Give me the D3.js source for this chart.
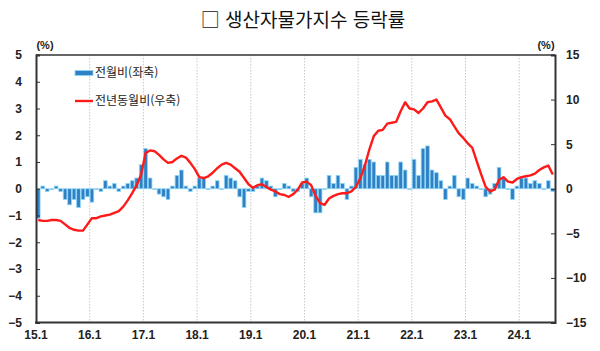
<!DOCTYPE html>
<html lang="ko">
<head>
<meta charset="UTF-8">
<title>생산자물가지수 등락률</title>
<script src="https://d3js.org/d3.v7.min.js"></script>
<style>
  body { margin: 0; background: #fff; }
  svg { display: block; }
</style>
</head>
<body>
<svg></svg>
<script>
// ---- data ----
const years = ['15', '16', '17', '18', '19', '20', '21', '22', '23', '24'];
const lastMonth = 8; // 24.8 까지

// 전월비 (%, 좌축)
const momValues = [
  -1.1, 0.1, -0.1, 0.0, 0.1, -0.1, -0.4, -0.6, -0.4, -0.7, -0.4, -0.3,   // 15
  -0.5, 0.0, -0.1, 0.3, 0.1, 0.2, -0.1, 0.1, 0.2, 0.3, 0.4, 0.9,         // 16
  1.5, 0.4, 0.0, -0.2, -0.3, -0.4, 0.1, 0.5, 0.7, 0.1, -0.1, 0.1,        // 17
  0.4, 0.4, 0.0, 0.1, 0.3, 0.0, 0.5, 0.4, 0.3, -0.3, -0.7, -0.1,         // 18
  -0.1, 0.1, 0.4, 0.3, 0.1, -0.3, 0.0, 0.2, 0.1, -0.1, -0.1, 0.2,        // 19
  0.4, -0.3, -0.9, -0.9, 0.0, 0.5, 0.2, 0.5, 0.2, -0.4, 0.1, 0.8,        // 20
  1.1, 0.9, 1.1, 1.0, 0.5, 0.5, 1.0, 0.5, 0.5, 1.0, 0.7, 0.0,            // 21
  1.1, 0.5, 1.5, 1.6, 0.7, 0.6, 0.3, -0.4, 0.1, 0.5, -0.3, -0.4,         // 22
  0.4, 0.2, 0.1, 0.0, -0.3, -0.2, 0.2, 0.8, 0.4, 0.0, -0.4, 0.1,         // 23
  0.4, 0.4, 0.2, 0.3, 0.2, 0.0, 0.3, -0.1                                // 24
];

// 전년동월비 (%, 우축)
const yoyValues = [
  -3.5, -3.6, -3.6, -3.5, -3.5, -3.6, -4.0, -4.4, -4.6, -4.7, -4.7, -4.0,
  -3.3, -3.3, -3.1, -3.0, -2.9, -2.7, -2.5, -2.0, -1.3, -0.5, 0.4, 1.6,
  4.0, 4.3, 4.2, 3.8, 3.3, 2.9, 3.0, 3.4, 3.7, 3.5, 2.9, 2.2,
  1.3, 1.2, 1.4, 1.8, 2.3, 2.7, 2.9, 2.7, 2.3, 1.9, 1.2, 0.5,
  0.1, 0.4, 0.5, 0.2, -0.1, -0.3, -0.6, -0.7, -0.9, -0.6, -0.1, 0.7,
  0.8, 0.4, -0.8, -1.6, -1.8, -1.1, -0.8, -0.6, -0.5, -0.5, -0.3, 0.2,
  1.2, 2.6, 4.4, 5.9, 6.5, 6.6, 7.3, 7.4, 7.5, 8.7, 9.7, 9.0,
  8.9, 8.5, 9.0, 9.7, 9.8, 10.0, 9.1, 8.2, 7.8, 7.0, 6.2, 5.7,
  5.1, 4.6, 3.1, 1.6, 0.2, -0.3, -0.1, 1.0, 1.3, 0.8, 0.7, 1.1,
  1.3, 1.4, 1.5, 1.7, 2.1, 2.4, 2.6, 1.6
];

const leftTicks = [-5, -4, -3, -2, -1, 0, 1, 2, 3, 4, 5];
const rightTicks = [-15, -10, -5, 0, 5, 10, 15];
const yearLabels = years.map(y => y + '.1');

const categories = [];
years.forEach((y, k) => {
  const n = k === years.length - 1 ? lastMonth : 12;
  for (let m = 1; m <= n; m++) categories.push(y + '.' + m);
});
const data = categories.map((c, i) => ({ cat: c, mom: momValues[i], yoy: yoyValues[i] }));

// ---- layout ----
const width = 600, height = 351;
const margin = { top: 55, right: 45, bottom: 28.5, left: 36 };
const numFont = '"Liberation Sans", Arial, sans-serif';
const korFont = '"Noto Sans CJK KR", "Noto Sans", sans-serif';

const svg = d3.select('svg')
  .attr('width', width)
  .attr('height', height)
  .attr('viewBox', [0, 0, width, height]);

const x = d3.scaleBand().domain(categories).range([margin.left, width - margin.right]).padding(0);
const yL = d3.scaleLinear().domain([-5, 5]).range([height - margin.bottom, margin.top]);
const yR = d3.scaleLinear().domain([-15, 15]).range([height - margin.bottom, margin.top]);

// title
svg.append('text')
  .attr('x', 303).attr('y', 27)
  .attr('text-anchor', 'middle')
  .style('font-family', korFont)
  .style('font-size', '19px')
  .style('fill', '#111')
  .text('□ 생산자물가지수 등락률');

// year gridlines
svg.append('g')
  .selectAll('line')
  .data(yearLabels.slice(1))
  .join('line')
  .attr('x1', d => x(d)).attr('x2', d => x(d))
  .attr('y1', margin.top).attr('y2', height - margin.bottom)
  .attr('stroke', '#c8c8c8')
  .attr('stroke-width', 1)
  .attr('stroke-dasharray', '1.5,1.5');

// bars
svg.append('g')
  .selectAll('rect')
  .data(data)
  .join('rect')
  .attr('x', d => x(d.cat) + 0.4)
  .attr('width', x.bandwidth() - 0.8)
  .attr('y', d => yL(Math.max(0, d.mom)))
  .attr('height', d => Math.max(0.8, Math.abs(yL(d.mom) - yL(0))))
  .attr('fill', '#2f80c4')
  .attr('stroke', '#8fd6f6')
  .attr('stroke-width', 0.8);

// line
const line = d3.line()
  .x(d => x(d.cat) + x.bandwidth() / 2)
  .y(d => yR(d.yoy));

svg.append('path')
  .datum(data)
  .attr('d', line)
  .attr('fill', 'none')
  .attr('stroke', '#ff1a1a')
  .attr('stroke-width', 2.4)
  .attr('stroke-linejoin', 'round');

// axes
const axisStyle = g => {
  g.selectAll('text')
    .style('font-family', numFont)
    .style('font-size', '12px')
    .style('font-weight', 'bold')
    .style('fill', '#222');
  g.selectAll('line').attr('stroke', '#333');
};

svg.append('g')
  .attr('transform', `translate(${margin.left},0)`)
  .call(d3.axisLeft(yL).tickValues(leftTicks).tickSize(-4).tickPadding(14).tickFormat(d3.format('d')))
  .call(g => g.select('.domain').attr('stroke', '#333').attr('stroke-width', 2))
  .call(axisStyle);

svg.append('g')
  .attr('transform', `translate(${width - margin.right},0)`)
  .call(d3.axisRight(yR).tickValues(rightTicks).tickSize(-4).tickPadding(11).tickFormat(d3.format('d')))
  .call(g => g.select('.domain').attr('stroke', '#333').attr('stroke-width', 2))
  .call(axisStyle);

svg.append('g')
  .attr('transform', `translate(${-x.bandwidth() / 2},${height - margin.bottom})`)
  .call(d3.axisBottom(x).tickValues(yearLabels).tickSize(0).tickPadding(8))
  .call(g => g.select('.domain').remove())
  .call(axisStyle);

// frame top & bottom
svg.append('line')
  .attr('x1', margin.left).attr('x2', width - margin.right)
  .attr('y1', margin.top).attr('y2', margin.top)
  .attr('stroke', '#333').attr('stroke-width', 1.5);
svg.append('line')
  .attr('x1', margin.left - 1).attr('x2', width - margin.right + 1)
  .attr('y1', height - margin.bottom).attr('y2', height - margin.bottom)
  .attr('stroke', '#333').attr('stroke-width', 2);

// unit labels
[[45, 'middle'], [546, 'middle']].forEach(([px, anchor]) => {
  svg.append('text')
    .attr('x', px).attr('y', 49)
    .attr('text-anchor', anchor)
    .style('font-family', numFont)
    .style('font-size', '11px')
    .style('font-weight', 'bold')
    .style('fill', '#222')
    .text('(%)');
});

// legend
const legend = svg.append('g');
legend.append('rect')
  .attr('x', 75).attr('y', 70.5).attr('width', 18).attr('height', 5)
  .attr('fill', '#2f80c4').attr('stroke', '#8fd6f6').attr('stroke-width', 0.8);
legend.append('text')
  .attr('x', 95).attr('y', 73).attr('dy', '0.35em')
  .style('font-family', korFont).style('font-size', '12px').style('fill', '#222')
  .text('전월비(좌축)');
legend.append('line')
  .attr('x1', 75).attr('x2', 93).attr('y1', 101).attr('y2', 101)
  .attr('stroke', '#ff1a1a').attr('stroke-width', 2.4);
legend.append('text')
  .attr('x', 95).attr('y', 101).attr('dy', '0.35em')
  .style('font-family', korFont).style('font-size', '12px').style('fill', '#222')
  .text('전년동월비(우축)');
</script>
</body>
</html>
